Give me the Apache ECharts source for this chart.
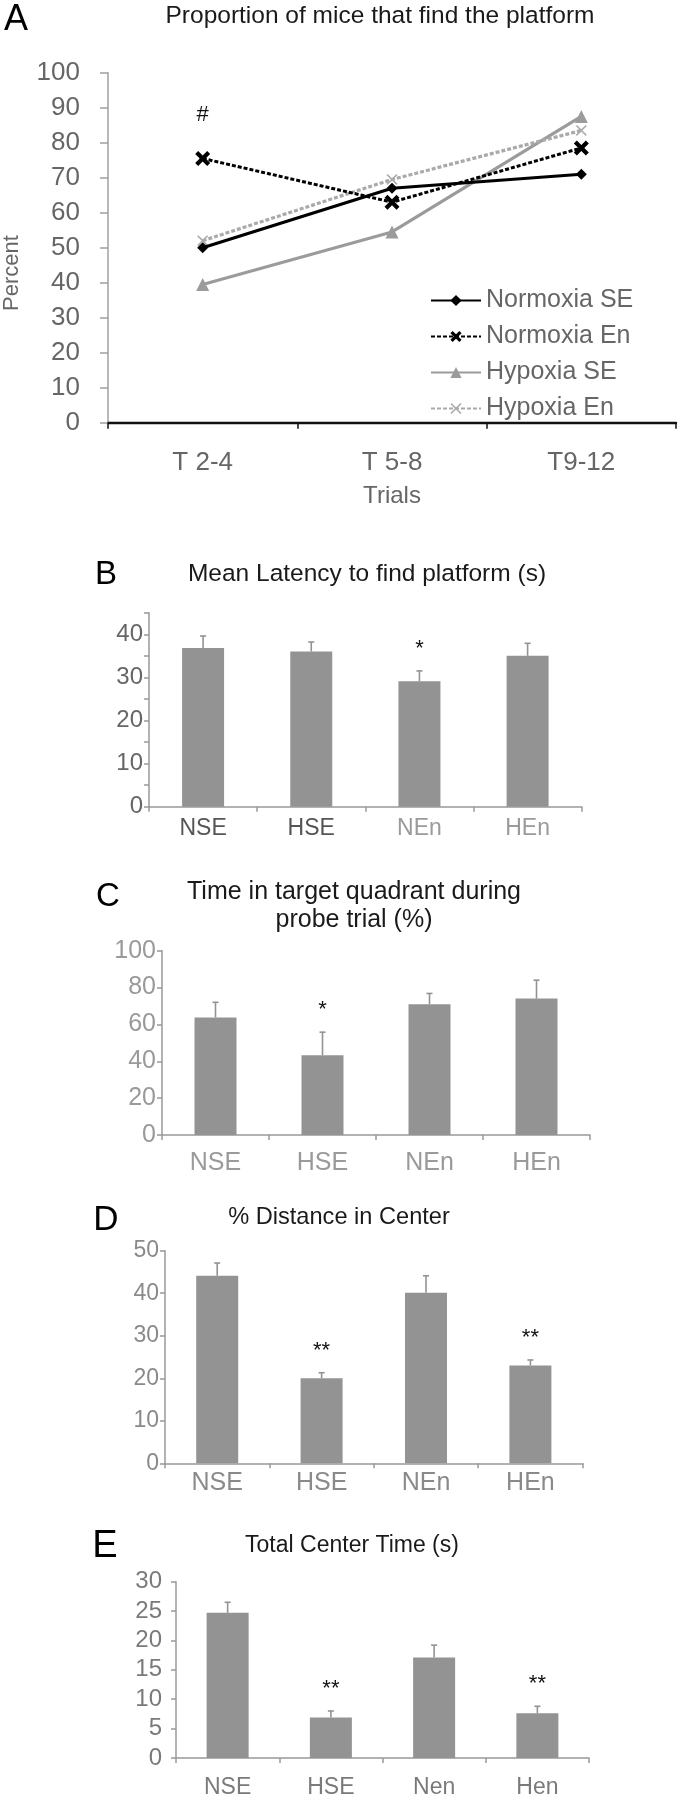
<!DOCTYPE html>
<html>
<head>
<meta charset="utf-8">
<script src="https://cdn.jsdelivr.net/npm/echarts@6/dist/echarts.min.js"></script>
<style>
  html, body { margin: 0; background: #fff; }
  #chart { width: 680px; height: 1800px; }
</style>
</head>
<body>
<div id="chart"></div>
<script>
// ---- panel A: proportion of mice that find the platform (%)
const trials = ['T 2-4', 'T 5-8', 'T9-12'];
const normoxiaSE = [50, 67, 71];
const normoxiaEn = [75.5, 63, 78.5];
const hypoxiaSE = [39.5, 54.5, 87.5];
const hypoxiaEn = [52, 69.5, 83.5];
const hashMark = ['T 2-4', 88];

// ---- panels B-E: group means, SEM and significance marks
const groups = ['NSE', 'HSE', 'NEn', 'HEn'];
const groupsE = ['NSE', 'HSE', 'Nen', 'Hen'];

const latencyMean = [36.8, 36.0, 29.1, 35.0];
const latencyErr = [2.8, 2.2, 2.4, 2.9];
const latencySig = ['', '', '*', ''];

const quadrantMean = [63.8, 43.3, 71.0, 74.0];
const quadrantErr = [8.2, 12.5, 5.8, 10.0];
const quadrantSig = ['', '*', '', ''];

const distanceMean = [44.1, 20.0, 40.1, 23.0];
const distanceErr = [3.0, 1.3, 4.0, 1.3];
const distanceSig = ['', '**', '', '**'];

const centerMean = [24.7, 6.9, 17.1, 7.6];
const centerErr = [1.8, 1.1, 2.1, 1.2];
const centerSig = ['', '**', '', '**'];

const FONT = "'Liberation Sans', Arial, Helvetica, sans-serif";
const BAR = '#939393';

// layout for each bar panel
const barPanels = [
  {
    cats: groups, mean: latencyMean, err: latencyErr, sig: latencySig,
    grid: { left: 149, top: 612.7, width: 432.7, height: 194 },
    max: 45, interval: 5, every: 10,
    yColor: '#666', xColor: (v, i) => (i < 2 ? '#555' : '#9a9a9a'),
    yMargin: 6, xMargin: 10, yFont: 24, xFont: 23
  },
  {
    cats: groups, mean: quadrantMean, err: quadrantErr, sig: quadrantSig,
    grid: { left: 162, top: 950.7, width: 428, height: 184.3 },
    max: 100, interval: 20, every: 20,
    yColor: '#9a9a9a', xColor: '#9a9a9a',
    yMargin: 6, xMargin: 16, yFont: 25, xFont: 25
  },
  {
    cats: groups, mean: distanceMean, err: distanceErr, sig: distanceSig,
    grid: { left: 165, top: 1250.7, width: 417.6, height: 212.6 },
    max: 50, interval: 10, every: 10,
    yColor: '#8a8a8a', xColor: '#8a8a8a',
    yMargin: 6, xMargin: 7, yFont: 23, xFont: 25
  },
  {
    cats: groupsE, mean: centerMean, err: centerErr, sig: centerSig,
    grid: { left: 176, top: 1581.7, width: 413, height: 176.3 },
    max: 30, interval: 5, every: 5,
    yColor: '#7a7a7a', xColor: '#7a7a7a',
    yMargin: 14, xMargin: 18, yFont: 24, xFont: 23
  }
];

const grids = [{ left: 108, top: 72.7, width: 568, height: 350, outerBoundsMode: 'none' }];
const xAxes = [{
  type: 'category', gridIndex: 0, data: trials,
  name: 'Trials', nameLocation: 'middle', nameGap: 62,
  nameTextStyle: { color: '#666', fontSize: 24, fontFamily: FONT },
  axisLine: { lineStyle: { color: '#111', width: 2.4 } },
  axisTick: { show: true, length: 6, lineStyle: { color: '#111', width: 1.5 } },
  axisLabel: { color: '#666', fontSize: 26, margin: 27, fontFamily: FONT }
}];
const yAxes = [{
  type: 'value', gridIndex: 0, min: 0, max: 100, interval: 10,
  splitLine: { show: false },
  axisLine: { show: true, lineStyle: { color: '#a0a0a0', width: 1.5 } },
  axisTick: { show: true, length: 8, lineStyle: { color: '#a0a0a0', width: 1.5 } },
  axisLabel: { color: '#666', fontSize: 26, margin: 28, fontFamily: FONT }
}];

const series = [
  {
    name: 'Normoxia SE', type: 'line', xAxisIndex: 0, yAxisIndex: 0, data: normoxiaSE,
    symbol: 'diamond', symbolSize: 11, color: '#000',
    lineStyle: { color: '#000', width: 3 }, itemStyle: { color: '#000' }, z: 4
  },
  {
    name: 'Normoxia En', type: 'line', xAxisIndex: 0, yAxisIndex: 0, data: normoxiaEn,
    symbol: 'path://M0,2 L2,0 L5,3 L8,0 L10,2 L7,5 L10,8 L8,10 L5,7 L2,10 L0,8 L3,5 Z',
    symbolSize: 15, color: '#000',
    lineStyle: { color: '#000', width: 3, type: [4, 2] }, itemStyle: { color: '#000' }, z: 4,
    markPoint: {
      symbol: 'circle', symbolSize: 0,
      data: [{ coord: hashMark, label: { show: true, formatter: '#', color: '#111', fontSize: 22, fontFamily: FONT } }]
    }
  },
  {
    name: 'Hypoxia SE', type: 'line', xAxisIndex: 0, yAxisIndex: 0, data: hypoxiaSE,
    symbol: 'triangle', symbolSize: 13, color: '#9b9b9b',
    lineStyle: { color: '#9b9b9b', width: 3.2 }, itemStyle: { color: '#9b9b9b' }, z: 3
  },
  {
    name: 'Hypoxia En', type: 'line', xAxisIndex: 0, yAxisIndex: 0, data: hypoxiaEn,
    symbol: 'path://M0,1 L1,0 L5,4 L9,0 L10,1 L6,5 L10,9 L9,10 L5,6 L1,10 L0,9 L4,5 Z',
    symbolSize: 11, color: '#aaaaaa',
    lineStyle: { color: '#aaaaaa', width: 3.2, type: [4, 2] }, itemStyle: { color: '#aaaaaa' }, z: 3
  }
];

function errorBars(p) {
  return function (params, api) {
    const m = api.value(1);
    const e = api.value(2);
    const base = api.coord([api.value(0), m]);
    const top = api.coord([api.value(0), m + e]);
    const kids = [
      { type: 'line', shape: { x1: base[0], y1: base[1], x2: top[0], y2: top[1] }, style: { stroke: BAR, lineWidth: 1.6 } },
      { type: 'line', shape: { x1: top[0] - 3, y1: top[1], x2: top[0] + 3, y2: top[1] }, style: { stroke: BAR, lineWidth: 1.6 } }
    ];
    const s = p.sig[params.dataIndex];
    if (s) {
      kids.push({
        type: 'text',
        style: { text: s, x: top[0], y: top[1] - 11, align: 'center', verticalAlign: 'bottom', fontSize: 22, fill: '#111', fontFamily: FONT }
      });
    }
    return { type: 'group', children: kids };
  };
}

barPanels.forEach((p, k) => {
  const gi = k + 1;
  grids.push(Object.assign({ outerBoundsMode: 'none' }, p.grid));
  xAxes.push({
    type: 'category', gridIndex: gi, data: p.cats,
    axisLine: { lineStyle: { color: '#999', width: 1.5 } },
    axisTick: { show: true, length: 5, lineStyle: { color: '#999', width: 1.5 } },
    axisLabel: { color: p.xColor, fontSize: p.xFont, margin: p.xMargin, fontFamily: FONT }
  });
  yAxes.push({
    type: 'value', gridIndex: gi, min: 0, max: p.max, interval: p.interval,
    splitLine: { show: false },
    axisLine: { show: true, lineStyle: { color: '#999', width: 1.5 } },
    axisTick: { show: true, length: 5, lineStyle: { color: '#999', width: 1.5 } },
    axisLabel: {
      color: p.yColor, fontSize: p.yFont, margin: p.yMargin, fontFamily: FONT,
      formatter: v => (v % p.every === 0 ? String(v) : '')
    }
  });
  series.push({
    type: 'bar', xAxisIndex: gi, yAxisIndex: gi, data: p.mean,
    barWidth: 42, itemStyle: { color: BAR }, silent: true
  });
  series.push({
    type: 'custom', xAxisIndex: gi, yAxisIndex: gi,
    data: p.mean.map((m, i) => [i, m, p.err[i]]),
    renderItem: errorBars(p), z: 5, silent: true
  });
});

function txt(text, x, y, size, color, extra) {
  return Object.assign({
    type: 'text', x: x, y: y,
    style: { text: text, fontSize: size, fill: color, fontFamily: FONT, align: 'center', verticalAlign: 'middle' }
  }, extra || {});
}

const graphics = [
  txt('A', 16, 20, 36, '#000'),
  txt('B', 106, 575, 33, '#000'),
  txt('C', 108, 897, 33, '#000'),
  txt('D', 106, 1220, 35, '#000'),
  txt('E', 105, 1547, 38, '#000'),
  txt('Proportion of mice that find the platform', 380, 16, 24.5, '#1a1a1a'),
  txt('Mean Latency to find platform (s)', 367, 574, 24.5, '#1a1a1a'),
  txt('Time in target quadrant during\nprobe trial (%)', 354, 906, 25, '#1a1a1a'),
  txt('% Distance in Center', 339, 1217, 23.6, '#1a1a1a'),
  txt('Total Center Time (s)', 352, 1546, 23, '#1a1a1a'),
  txt('Percent', 12, 273, 22, '#666', { rotation: Math.PI / 2 })
];
graphics[7].style.lineHeight = 27.5;

const chart = echarts.init(document.getElementById('chart'), null, { renderer: 'canvas' });
chart.setOption({
  backgroundColor: '#fff',
  animation: false,
  textStyle: { fontFamily: FONT },
  grid: grids,
  xAxis: xAxes,
  yAxis: yAxes,
  legend: {
    left: 425, top: 283, orient: 'vertical',
    itemWidth: 50, itemHeight: 14, itemGap: 11,
    textStyle: { color: '#666', fontSize: 25, lineHeight: 22, fontFamily: FONT },
    data: ['Normoxia SE', 'Normoxia En', 'Hypoxia SE', 'Hypoxia En']
  },
  graphic: graphics,
  series: series
});
</script>
</body>
</html>
